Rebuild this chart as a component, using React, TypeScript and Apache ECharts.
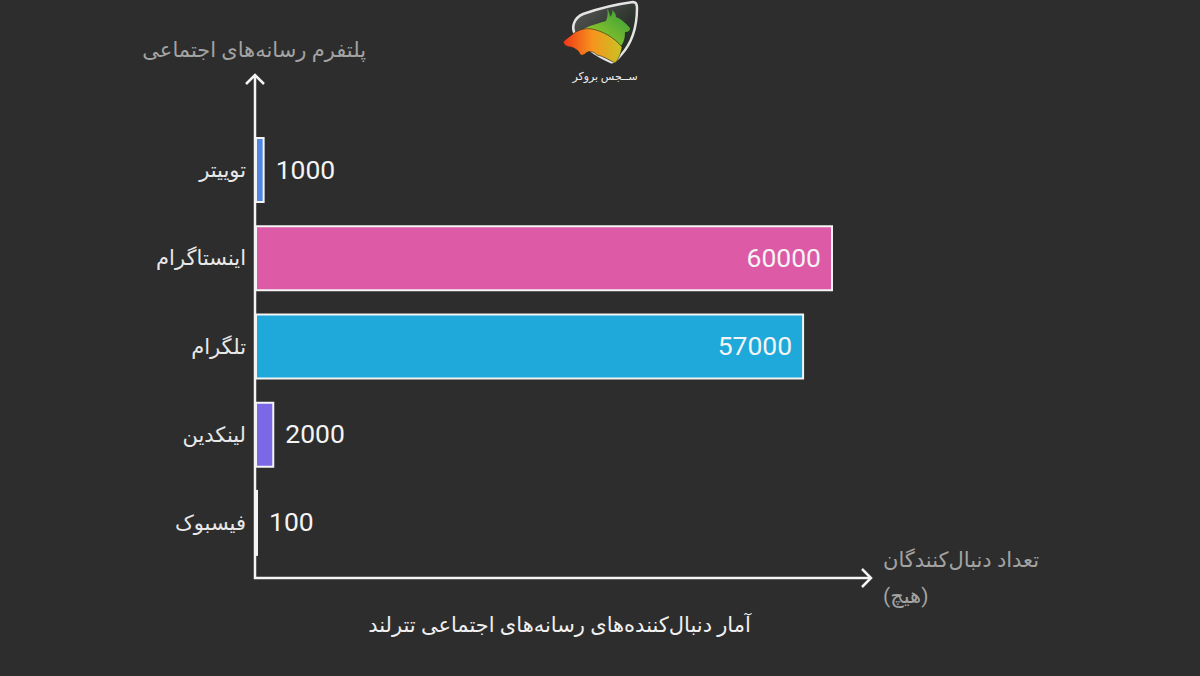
import React, { useEffect, useRef } from "react";
import * as echarts from "echarts";

const categories = ["فیسبوک", "لینکدین", "تلگرام", "اینستاگرام", "توییتر"];
const followers = [100, 2000, 57000, 60000, 1000];
const barColors = ["#f4f4f4", "#7b68e6", "#1fa9da", "#dc5aa6", "#4f86e6"];
const insideBars = [false, false, true, true, false];
const yTitle = "پلتفرم رسانه‌های اجتماعی";
const xTitle = "تعداد دنبال‌کنندگان\n(هیچ)";
const chartTitle = "آمار دنبال‌کننده‌های رسانه‌های اجتماعی تترلند";
const logoText = "ســجس بروکر";

const FONT = "Roboto, 'Noto Sans', 'DejaVu Sans', sans-serif";

echarts.graphic.registerShape("logoShield", echarts.graphic.extendPath("M583 14 C600 8 618 4 633 2 C636 2 637 4 637 8 C637 25 633 42 621 55 C617 60 614 63 611 62 C597 56 583 46 575 34 C571 27 574 18 583 14 Z", {}));
echarts.graphic.registerShape("logoGreen", echarts.graphic.extendPath("M607 8 C609 12 610 14 610 17 C612 15 613 12 612 10 C615 12 616 15 616 17 C621 19 626 23 630 28 C630 31 628 32 625 32 C625 38 624 42 621 46 C614 38 604 33 594 31 C590 30 586 29 582 30 C590 25 600 23 606 21 C608 17 608 12 607 8 Z", {}));
echarts.graphic.registerShape("logoOrange", echarts.graphic.extendPath("M563 42 C567 38 572 35 574 33 C580 29 586 28 592 29 C602 31 614 37 622 47 C621 54 618 60 615 63 C609 60 603 56 597 55 C594 52 590 50 586 53 C583 56 580 56 579 52 C576 49 574 48 571 47 C567 47 564 45 563 42 Z", {}));

export default function App() {
  const ref = useRef<HTMLDivElement>(null);

  useEffect(() => {
    const chart = echarts.init(ref.current!, null, { renderer: "svg" });
    chart.setOption({
      animation: false,
      backgroundColor: "#2d2d2d",
      textStyle: { fontFamily: FONT },
      title: {
        text: chartTitle,
        left: 554.5,
        top: 609,
        textAlign: "center",
        textStyle: { color: "#f0f0f0", fontSize: 21, fontWeight: "normal", fontFamily: FONT },
      },
      grid: { left: 255, top: 126, width: 578, height: 441 },
      xAxis: {
        type: "value",
        min: 0,
        max: 60000,
        splitLine: { show: false },
        axisLine: { show: false },
        axisTick: { show: false },
        axisLabel: { show: false },
      },
      yAxis: {
        type: "category",
        data: categories,
        axisLine: { show: false },
        axisTick: { show: false },
        axisLabel: { color: "#e8e8e8", fontSize: 21, margin: 9, fontFamily: FONT },
      },
      series: [
        {
          type: "bar",
          barWidth: 66,
          barMinHeight: 3,
          data: followers.map((value, i) => ({
            value,
            itemStyle: { color: barColors[i], borderColor: "#f4f4f4", borderWidth: 2 },
            label: {
              show: true,
              position: insideBars[i] ? "insideRight" : "right",
              distance: insideBars[i] ? 12 : 11,
              offset: [0, -1],
              color: "#f4f4f4",
              fontSize: 26.5,
              fontFamily: FONT,
            },
          })),
        },
      ],
      graphic: [
        { type: "polyline", silent: true, shape: { points: [[255, 75], [255, 578], [871, 578]] }, style: { stroke: "#f4f4f4", lineWidth: 2.5, fill: "none" } },
        { type: "polyline", silent: true, shape: { points: [[246, 84], [255, 75], [264, 84]] }, style: { stroke: "#f4f4f4", lineWidth: 2.5, fill: "none" } },
        { type: "polyline", silent: true, shape: { points: [[862, 569], [871, 578], [862, 587]] }, style: { stroke: "#f4f4f4", lineWidth: 2.5, fill: "none" } },
        { type: "text", x: 366, y: 50, style: { text: yTitle, fill: "#a3a3a3", fontSize: 21, fontFamily: FONT, align: "right", verticalAlign: "middle" } },
        { type: "text", x: 883, y: 578, style: { text: xTitle, fill: "#a3a3a3", fontSize: 21, lineHeight: 36, fontFamily: FONT, align: "left", verticalAlign: "middle" } },
        {
          type: "logoShield",
          style: {
            fill: new echarts.graphic.LinearGradient(0, 0, 1, 1, [
              { offset: 0, color: "#5c5c5c" },
              { offset: 0.6, color: "#2c332c" },
              { offset: 1, color: "#1c2a1e" },
            ]),
            stroke: "#e4e4e4",
            lineWidth: 2.5,
          },
        },
        {
          type: "logoGreen",
          style: {
            fill: new echarts.graphic.LinearGradient(1, 0, 0, 1, [
              { offset: 0, color: "#2e9c3a" },
              { offset: 0.6, color: "#7cbc2e" },
              { offset: 1, color: "#e0c820" },
            ]),
          },
        },
        {
          type: "logoOrange",
          style: {
            fill: new echarts.graphic.LinearGradient(0, 0.5, 1, 0.5, [
              { offset: 0, color: "#f0361a" },
              { offset: 0.5, color: "#f7941d" },
              { offset: 1, color: "#c8c424" },
            ]),
            stroke: "#2a2a1c",
            lineWidth: 0.6,
          },
        },
        { type: "text", x: 605, y: 76, style: { text: logoText, fill: "#f0f0f0", fontSize: 11, fontFamily: FONT, align: "center", verticalAlign: "middle" } },
      ],
    });
    return () => chart.dispose();
  }, []);

  return <div ref={ref} style={{ position: "fixed", left: 0, top: 0, width: 1200, height: 676 }} />;
}
